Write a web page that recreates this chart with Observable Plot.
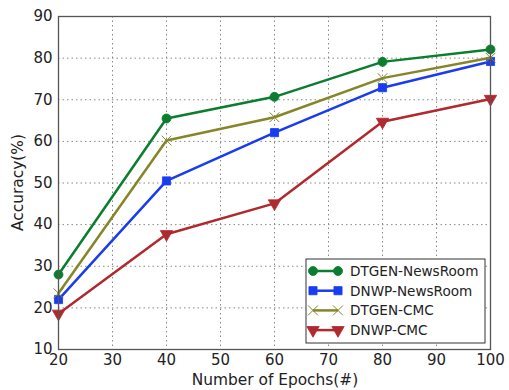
<!DOCTYPE html>
<html><head><meta charset="utf-8">
<script src="https://cdn.jsdelivr.net/npm/d3@7"></script>
<script src="https://cdn.jsdelivr.net/npm/@observablehq/plot@0.6"></script>
<style>body{margin:0;background:#fff;} svg{display:block;}</style>
</head><body><div id="chart"></div>
<script>
const epochs = [20, 40, 60, 80, 100];
const seriesNames = ["DTGEN-NewsRoom", "DNWP-NewsRoom", "DTGEN-CMC", "DNWP-CMC"];
const dtgenNews = [28, 65.5, 70.7, 79.1, 82.1];
const dnwpNews = [22, 50.5, 62.1, 72.9, 79.2];
const dtgenCmc = [23.5, 60.2, 65.8, 75.2, 80.1];
const dnwpCmc = [18.6, 37.7, 45.1, 64.7, 70.2];
const colors = ["#0b7d2e", "#1a3cf0", "#85862a", "#b0292e"];
const symbols = ["circle", "square", "times", "triangle"];
const rotations = [0, 0, 0, 180];
const radii = [4.5, 4.6, 4.5, 4.6];
const xTicks = [20, 30, 40, 50, 60, 70, 80, 90, 100];
const yTicks = [10, 20, 30, 40, 50, 60, 70, 80, 90];

const allValues = [dtgenNews, dnwpNews, dtgenCmc, dnwpCmc];
const data = [];
allValues.forEach((vals, i) => vals.forEach((v, j) => data.push({series: seriesNames[i], idx: i, x: epochs[j], y: v})));

const font = "DejaVu Sans, sans-serif";
const marks = [
  Plot.gridX(xTicks, {stroke: "#888", strokeOpacity: 1, strokeDasharray: "1.5,3", strokeWidth: 1}),
  Plot.gridY(yTicks, {stroke: "#888", strokeOpacity: 1, strokeDasharray: "1.5,3", strokeWidth: 1}),
  Plot.axisX(xTicks, {tickSize: 0, tickPadding: 5, fontSize: 15, fill: "#222", label: null}),
  Plot.axisY(yTicks, {tickSize: 0, tickPadding: 6, fontSize: 15, fill: "#222", label: null}),
];
seriesNames.forEach((name, i) => {
  const d = data.filter(r => r.idx === i);
  marks.push(Plot.line(d, {x: "x", y: "y", stroke: colors[i], strokeWidth: 2.5}));
  marks.push(Plot.dot(d, {x: "x", y: "y", symbol: () => symbols[i], r: radii[i], fill: symbols[i] === "times" ? "none" : colors[i],
    stroke: colors[i], strokeWidth: symbols[i] === "times" ? 1 : 0.8, rotate: rotations[i]}));
});
marks.push(Plot.frame({stroke: "#555", strokeWidth: 1.3}));

const plot = Plot.plot({
  width: 509, height: 390,
  marginLeft: 58, marginRight: 19, marginTop: 16, marginBottom: 41,
  x: {domain: [20, 100]},
  y: {domain: [10, 90]},
  symbol: {type: "identity"},
  style: {fontFamily: font, background: "#fff"},
  marks
});
const svg = d3.select(plot);
// axis labels
svg.append("text").attr("x", (58 + 490) / 2 + 1).attr("y", 385).attr("text-anchor", "middle")
  .attr("font-family", font).attr("font-size", 15.4).attr("fill", "#222").text("Number of Epochs(#)");
svg.append("text").attr("transform", `translate(23,${(16 + 349) / 2}) rotate(-90)`).attr("text-anchor", "middle")
  .attr("font-family", font).attr("font-size", 15.4).attr("fill", "#222").text("Accuracy(%)");
// legend
const lg = svg.append("g");
lg.append("rect").attr("x", 306).attr("y", 259).attr("width", 179).attr("height", 84)
  .attr("fill", "#fff").attr("stroke", "#333").attr("stroke-width", 1);
seriesNames.forEach((name, i) => {
  const cy = 271 + i * 19.7;
  lg.append("line").attr("x1", 313).attr("x2", 338).attr("y1", cy).attr("y2", cy)
    .attr("stroke", colors[i]).attr("stroke-width", 2.5);
  [313, 338].forEach(cx => {
    const sym = {circle: d3.symbolCircle, square: d3.symbolSquare, times: d3.symbolTimes, triangle: d3.symbolTriangle}[symbols[i]];
    lg.append("path").attr("d", d3.symbol(sym, Math.PI * radii[i] * radii[i])())
      .attr("transform", `translate(${cx},${cy}) rotate(${rotations[i]})`)
      .attr("fill", symbols[i] === "times" ? "none" : colors[i]).attr("stroke", colors[i])
      .attr("stroke-width", symbols[i] === "times" ? 1 : 0.8);
  });
  lg.append("text").attr("x", 350).attr("y", cy).attr("dy", "0.36em").attr("text-anchor", "start")
    .attr("font-family", font).attr("font-size", 13.6).attr("fill", "#222").text(name);
});
document.getElementById("chart").appendChild(plot);
</script></body></html>
